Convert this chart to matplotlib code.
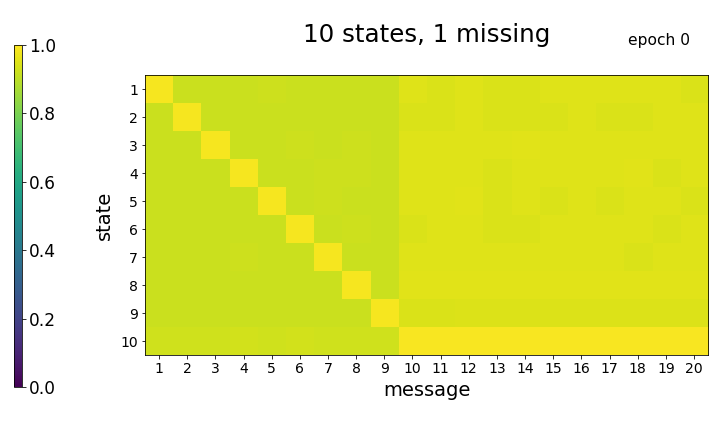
import matplotlib
matplotlib.use("Agg")
import numpy as np
import matplotlib.pyplot as plt

title = "10 states, 1 missing"
epoch_text = "epoch 0"
states = [str(i) for i in range(1, 11)]
messages = [str(i) for i in range(1, 21)]

# probability of each message for each state (rows = states, cols = messages)
row1 = [0.985, 0.920, 0.920, 0.920, 0.925, 0.920, 0.920, 0.918, 0.920, 0.950, 0.945, 0.950, 0.945, 0.945, 0.950, 0.950, 0.950, 0.950, 0.950, 0.945]
row2 = [0.918, 0.985, 0.920, 0.918, 0.918, 0.920, 0.920, 0.920, 0.920, 0.945, 0.945, 0.950, 0.945, 0.945, 0.945, 0.950, 0.945, 0.945, 0.950, 0.950]
row3 = [0.918, 0.918, 0.985, 0.918, 0.918, 0.922, 0.920, 0.923, 0.920, 0.950, 0.950, 0.950, 0.950, 0.956, 0.950, 0.950, 0.950, 0.950, 0.950, 0.950]
row4 = [0.918, 0.918, 0.918, 0.985, 0.918, 0.920, 0.922, 0.922, 0.920, 0.950, 0.950, 0.950, 0.945, 0.950, 0.950, 0.950, 0.950, 0.956, 0.945, 0.950]
row5 = [0.918, 0.918, 0.918, 0.918, 0.985, 0.920, 0.922, 0.920, 0.920, 0.950, 0.950, 0.956, 0.945, 0.950, 0.945, 0.950, 0.945, 0.950, 0.950, 0.945]
row6 = [0.918, 0.918, 0.918, 0.918, 0.918, 0.985, 0.918, 0.922, 0.920, 0.945, 0.950, 0.950, 0.945, 0.945, 0.950, 0.950, 0.950, 0.950, 0.945, 0.950]
row7 = [0.918, 0.918, 0.918, 0.922, 0.918, 0.918, 0.985, 0.920, 0.920, 0.950, 0.950, 0.950, 0.950, 0.950, 0.950, 0.950, 0.950, 0.945, 0.950, 0.950]
row8 = [0.918, 0.918, 0.920, 0.918, 0.920, 0.918, 0.918, 0.985, 0.918, 0.954, 0.954, 0.954, 0.954, 0.954, 0.954, 0.954, 0.954, 0.954, 0.954, 0.954]
row9 = [0.918, 0.918, 0.918, 0.918, 0.918, 0.918, 0.918, 0.918, 0.985, 0.945, 0.945, 0.948, 0.948, 0.948, 0.948, 0.948, 0.948, 0.948, 0.948, 0.948]
row10 = [0.928, 0.928, 0.928, 0.932, 0.928, 0.932, 0.928, 0.928, 0.928, 0.992, 0.992, 0.992, 0.992, 0.992, 0.992, 0.992, 0.992, 0.992, 0.992, 0.992]

probs = np.array([row1, row2, row3, row4, row5, row6, row7, row8, row9, row10])

fig = plt.figure(figsize=(10, 6), dpi=72)
ax = fig.add_axes([0.2014, 0.178, 0.782, 0.648])
cax = fig.add_axes([0.0194, 0.104, 0.011, 0.792])

im = ax.imshow(probs, cmap="viridis", vmin=0.0, vmax=1.0, aspect="auto",
               interpolation="nearest")
ax.set_xticks(range(len(messages)))
ax.set_xticklabels(messages, fontsize=14)
ax.set_yticks(range(len(states)))
ax.set_yticklabels(states, fontsize=14)
ax.set_xlabel("message", fontsize=19.5, labelpad=5)
ax.set_ylabel("state", fontsize=19.5, labelpad=6)
ax.set_title(title, fontsize=24.5, pad=33)
fig.text(0.958, 0.907, epoch_text, fontsize=15.5, ha="right", va="center")

cb = fig.colorbar(im, cax=cax)
cb.set_ticks([0.0, 0.2, 0.4, 0.6, 0.8, 1.0])
cb.ax.tick_params(labelsize=17)

fig.savefig("out.png", dpi=72)
